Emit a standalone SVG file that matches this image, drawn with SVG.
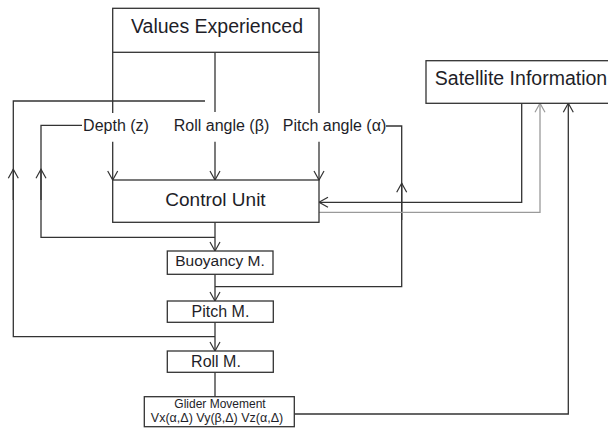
<svg xmlns="http://www.w3.org/2000/svg" width="608" height="434" viewBox="0 0 608 434">
<defs>
<style>
.box{fill:#fff;stroke:#333;stroke-width:1.3}
.ln{fill:none;stroke:#333;stroke-width:1.3}
.gl{fill:none;stroke:#9a9a9a;stroke-width:1.3}
text{font-family:"Liberation Sans",Arial,sans-serif;fill:#1e1e28;text-anchor:middle}
</style>
<marker id="ah" markerUnits="userSpaceOnUse" markerWidth="14" markerHeight="14" viewBox="-10 -7 12 14" refX="0" refY="0" orient="auto">
<path d="M-9,-5 L0,0 L-9,5" fill="none" stroke="#333" stroke-width="1.2"/>
</marker>
<marker id="ahg" markerUnits="userSpaceOnUse" markerWidth="14" markerHeight="14" viewBox="-10 -7 12 14" refX="0" refY="0" orient="auto">
<path d="M-9,-5 L0,0 L-9,5" fill="none" stroke="#9a9a9a" stroke-width="1.2"/>
</marker>
</defs>
<rect width="608" height="434" fill="#fff"/>
<g id="connectors">
<!-- Values Experienced down to Control Unit -->
<path class="ln" d="M112.7,52.3 V113"/>
<path class="ln" d="M112.7,141.7 V180" marker-end="url(#ah)"/>
<path class="ln" d="M215,52.3 V112"/>
<path class="ln" d="M215,141.7 V180" marker-end="url(#ah)"/>
<path class="ln" d="M319,52.3 V113"/>
<path class="ln" d="M319,141.7 V180" marker-end="url(#ah)"/>
<!-- outer feedback loop to Roll M. -->
<path class="ln" d="M205,101 H13.3 V336.7 H215"/>
<path class="ln" d="M13.3,200 V169.3" marker-end="url(#ah)"/>
<!-- depth loop to Buoyancy M. -->
<path class="ln" d="M82,125.3 H41 V237.3 H215"/>
<path class="ln" d="M41,200 V169.3" marker-end="url(#ah)"/>
<!-- pitch loop to Pitch M. -->
<path class="ln" d="M386,126 H401.7 V286.7 H215"/>
<path class="ln" d="M401.7,220 V183.3" marker-end="url(#ah)"/>
<!-- main chain -->
<path class="ln" d="M215,222.3 V251" marker-end="url(#ah)"/>
<path class="ln" d="M215,274.3 V301" marker-end="url(#ah)"/>
<path class="ln" d="M215,322.3 V351" marker-end="url(#ah)"/>
<path class="ln" d="M215,372.3 V396.7"/>
<!-- satellite links -->
<path class="ln" d="M521.7,103.3 V202.3 H319" marker-end="url(#ah)"/>
<path class="gl" d="M319,212.3 H540 V103.3" marker-end="url(#ahg)"/>
<path class="ln" d="M294.3,414 H568.3 V103.3" marker-end="url(#ah)"/>
</g>
<g id="values-experienced">
<rect class="box" x="112.7" y="8.3" width="206.3" height="44"/>
<text x="217" y="33.3" font-size="19.5">Values Experienced</text>
</g>
<g id="labels">
<text x="116" y="130.7" font-size="16">Depth (z)</text>
<text x="221.5" y="130.7" font-size="16">Roll angle (β)</text>
<text x="334.5" y="130.7" font-size="16">Pitch angle (α)</text>
</g>
<g id="satellite-information">
<rect class="box" x="426" y="60.7" width="190" height="42.6"/>
<text x="521" y="85" font-size="19.5">Satellite Information</text>
</g>
<g id="control-unit">
<rect class="box" x="112.7" y="180" width="206.3" height="42.3"/>
<text x="215.5" y="205.7" font-size="19">Control Unit</text>
</g>
<g id="buoyancy-m">
<rect class="box" x="167.3" y="251" width="105.7" height="23.3"/>
<text x="220" y="265.7" font-size="15.5">Buoyancy M.</text>
</g>
<g id="pitch-m">
<rect class="box" x="167.3" y="301" width="106" height="21.3"/>
<text x="220.5" y="316.7" font-size="16">Pitch M.</text>
</g>
<g id="roll-m">
<rect class="box" x="167.3" y="351" width="106" height="21.3"/>
<text x="216" y="366.7" font-size="16">Roll M.</text>
</g>
<g id="glider-movement">
<rect class="box" x="144.3" y="396.7" width="150" height="30"/>
<text x="220" y="408.3" font-size="12">Glider Movement</text>
<text x="217" y="422.3" font-size="12.5">Vx(α,Δ) Vy(β,Δ) Vz(α,Δ)</text>
</g>
</svg>
